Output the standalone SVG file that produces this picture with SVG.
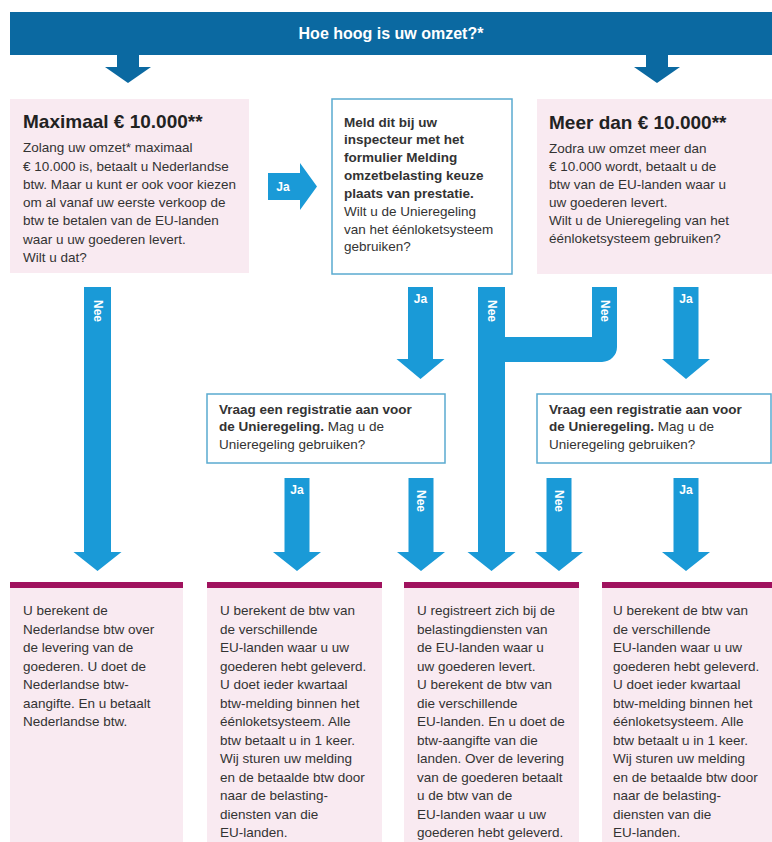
<svg xmlns="http://www.w3.org/2000/svg" width="772" height="842" viewBox="0 0 772 842">
<defs>
<style>
.t{font-family:"Liberation Sans",Arial,sans-serif;font-size:13.5px;fill:#333333}
.b{font-weight:bold}
.ttl{font-family:"Liberation Sans",Arial,sans-serif;font-size:19px;font-weight:bold;fill:#222222}
.pink{fill:#f9eaf1}
.wbox{fill:#ffffff;stroke:#5aaad0;stroke-width:1.5}
.bar{fill:#a0125e}
.arr{fill:#1a9ad7}
.dark{fill:#0b69a1}
.lbl{font-family:"Liberation Sans",Arial,sans-serif;font-size:12px;font-weight:bold;fill:#ffffff}
</style>
</defs>
<rect width="772" height="842" fill="#ffffff"/>

<g id="header">
<rect class="dark" x="10" y="12" width="762" height="43"/>
<text x="391" y="39" text-anchor="middle" style="font-family:'Liberation Sans',Arial,sans-serif;font-size:16px;font-weight:bold;fill:#ffffff">Hoe hoog is uw omzet?*</text>
</g>

<g id="connectors">
<polygon class="dark" points="117,55 139,55 139,67 151,67 128,83 105,67 117,67"/>
<polygon class="dark" points="646,55 668,55 668,67 680,67 657,83 634,67 646,67"/>

<polygon class="arr" points="268,173 300,173 300,163 317,186.5 300,210 300,200 268,200"/>
<text class="lbl" x="283" y="191" text-anchor="middle">Ja</text>

<polygon class="arr" points="84,287 111,287 111,552 121.5,552 97.5,571 73.5,552 84,552"/>
<text class="lbl" transform="translate(97.5,311) rotate(90)" text-anchor="middle" dominant-baseline="central">Nee</text>

<polygon class="arr" points="408,287 433,287 433,359 444.5,359 420.5,379 396.5,359 408,359"/>
<text class="lbl" x="420.5" y="303" text-anchor="middle">Ja</text>

<path class="arr" d="M478,287 H505 V337 H592 V287 H617 V347 A15,15 0 0 1 602,362 H505 V552 H515.5 L491.5,571 L467.5,552 H478 Z"/>
<text class="lbl" transform="translate(491.5,311) rotate(90)" text-anchor="middle" dominant-baseline="central">Nee</text>
<text class="lbl" transform="translate(604.5,311) rotate(90)" text-anchor="middle" dominant-baseline="central">Nee</text>

<polygon class="arr" points="673.5,287 698.5,287 698.5,359 710,359 686,379 662,359 673.5,359"/>
<text class="lbl" x="686" y="303" text-anchor="middle">Ja</text>

<polygon class="arr" points="284.5,478 309.5,478 309.5,552 321,552 297,571 273,552 284.5,552"/>
<text class="lbl" x="297" y="494" text-anchor="middle">Ja</text>

<polygon class="arr" points="408.5,478 433.5,478 433.5,552 445,552 421,571 397,552 408.5,552"/>
<text class="lbl" transform="translate(421,501) rotate(90)" text-anchor="middle" dominant-baseline="central">Nee</text>

<polygon class="arr" points="546.5,478 571.5,478 571.5,552 583,552 559,571 535,552 546.5,552"/>
<text class="lbl" transform="translate(559,501) rotate(90)" text-anchor="middle" dominant-baseline="central">Nee</text>

<polygon class="arr" points="673.5,478 698.5,478 698.5,552 710,552 686,571 662,552 673.5,552"/>
<text class="lbl" x="686" y="494" text-anchor="middle">Ja</text>
</g>

<g id="box-max">
<rect class="pink" x="10" y="99" width="239" height="174"/>
<text class="ttl" x="23" y="128">Maximaal € 10.000**</text>
<text class="t" x="23" y="152">Zolang uw omzet* maximaal</text>
<text class="t" x="23" y="171">€ 10.000 is, betaalt u Nederlandse</text>
<text class="t" x="23" y="189">btw. Maar u kunt er ook voor kiezen</text>
<text class="t" x="23" y="207">om al vanaf uw eerste verkoop de</text>
<text class="t" x="23" y="225">btw te betalen van de EU-landen</text>
<text class="t" x="23" y="244">waar u uw goederen levert.</text>
<text class="t" x="23" y="262">Wilt u dat?</text>
</g>

<g id="box-meld">
<rect class="wbox" x="332" y="99" width="180" height="175"/>
<text class="t b" x="344" y="127">Meld dit bij uw</text>
<text class="t b" x="344" y="144">inspecteur met het</text>
<text class="t b" x="344" y="162">formulier Melding</text>
<text class="t b" x="344" y="180">omzetbelasting keuze</text>
<text class="t b" x="344" y="198">plaats van prestatie.</text>
<text class="t" x="344" y="216">Wilt u de Unieregeling</text>
<text class="t" x="344" y="234">van het éénloketsysteem</text>
<text class="t" x="344" y="251">gebruiken?</text>
</g>

<g id="box-meer">
<rect class="pink" x="537" y="99" width="235" height="175"/>
<text class="ttl" x="549" y="129">Meer dan € 10.000**</text>
<text class="t" x="549" y="153">Zodra uw omzet meer dan</text>
<text class="t" x="549" y="171">€ 10.000 wordt, betaalt u de</text>
<text class="t" x="549" y="189">btw van de EU-landen waar u</text>
<text class="t" x="549" y="207">uw goederen levert.</text>
<text class="t" x="549" y="225">Wilt u de Unieregeling van het</text>
<text class="t" x="549" y="243">éénloketsysteem gebruiken?</text>
</g>

<g id="box-vraag1">
<rect class="wbox" x="207" y="394" width="238" height="69"/>
<text class="t b" x="219" y="414">Vraag een registratie aan voor</text>
<text class="t" x="219" y="431"><tspan class="b">de Unieregeling.</tspan> Mag u de</text>
<text class="t" x="219" y="449">Unieregeling gebruiken?</text>
</g>

<g id="box-vraag2">
<rect class="wbox" x="537" y="394" width="234" height="69"/>
<text class="t b" x="549" y="414">Vraag een registratie aan voor</text>
<text class="t" x="549" y="431"><tspan class="b">de Unieregeling.</tspan> Mag u de</text>
<text class="t" x="549" y="449">Unieregeling gebruiken?</text>
</g>

<g id="result-nl">
<rect class="pink" x="10" y="582" width="173" height="260"/>
<rect class="bar" x="10" y="582" width="173" height="6"/>
<text class="t" x="23" y="615">U berekent de</text>
<text class="t" x="23" y="633.5">Nederlandse btw over</text>
<text class="t" x="23" y="652">de levering van de</text>
<text class="t" x="23" y="670.5">goederen. U doet de</text>
<text class="t" x="23" y="689">Nederlandse btw-</text>
<text class="t" x="23" y="707.5">aangifte. En u betaalt</text>
<text class="t" x="23" y="726">Nederlandse btw.</text>
</g>

<g id="result-oss1">
<rect class="pink" x="207" y="582" width="175" height="260"/>
<rect class="bar" x="207" y="582" width="175" height="6"/>
<text class="t" x="220" y="615">U berekent de btw van</text>
<text class="t" x="220" y="633.5">de verschillende</text>
<text class="t" x="220" y="652">EU-landen waar u uw</text>
<text class="t" x="220" y="670.5">goederen hebt geleverd.</text>
<text class="t" x="220" y="689">U doet ieder kwartaal</text>
<text class="t" x="220" y="707.5">btw-melding binnen het</text>
<text class="t" x="220" y="726">éénloketsysteem. Alle</text>
<text class="t" x="220" y="744.5">btw betaalt u in 1 keer.</text>
<text class="t" x="220" y="763">Wij sturen uw melding</text>
<text class="t" x="220" y="781.5">en de betaalde btw door</text>
<text class="t" x="220" y="800">naar de belasting-</text>
<text class="t" x="220" y="818.5">diensten van die</text>
<text class="t" x="220" y="837">EU-landen.</text>
</g>

<g id="result-reg">
<rect class="pink" x="404" y="582" width="175" height="260"/>
<rect class="bar" x="404" y="582" width="175" height="6"/>
<text class="t" x="417" y="615">U registreert zich bij de</text>
<text class="t" x="417" y="633.5">belastingdiensten van</text>
<text class="t" x="417" y="652">de EU-landen waar u</text>
<text class="t" x="417" y="670.5">uw goederen levert.</text>
<text class="t" x="417" y="689">U berekent de btw van</text>
<text class="t" x="417" y="707.5">die verschillende</text>
<text class="t" x="417" y="726">EU-landen. En u doet de</text>
<text class="t" x="417" y="744.5">btw-aangifte van die</text>
<text class="t" x="417" y="763">landen. Over de levering</text>
<text class="t" x="417" y="781.5">van de goederen betaalt</text>
<text class="t" x="417" y="800">u de btw van de</text>
<text class="t" x="417" y="818.5">EU-landen waar u uw</text>
<text class="t" x="417" y="837">goederen hebt geleverd.</text>
</g>

<g id="result-oss2">
<rect class="pink" x="602" y="582" width="170" height="260"/>
<rect class="bar" x="602" y="582" width="170" height="6"/>
<text class="t" x="613" y="615">U berekent de btw van</text>
<text class="t" x="613" y="633.5">de verschillende</text>
<text class="t" x="613" y="652">EU-landen waar u uw</text>
<text class="t" x="613" y="670.5">goederen hebt geleverd.</text>
<text class="t" x="613" y="689">U doet ieder kwartaal</text>
<text class="t" x="613" y="707.5">btw-melding binnen het</text>
<text class="t" x="613" y="726">éénloketsysteem. Alle</text>
<text class="t" x="613" y="744.5">btw betaalt u in 1 keer.</text>
<text class="t" x="613" y="763">Wij sturen uw melding</text>
<text class="t" x="613" y="781.5">en de betaalde btw door</text>
<text class="t" x="613" y="800">naar de belasting-</text>
<text class="t" x="613" y="818.5">diensten van die</text>
<text class="t" x="613" y="837">EU-landen.</text>
</g>
</svg>
